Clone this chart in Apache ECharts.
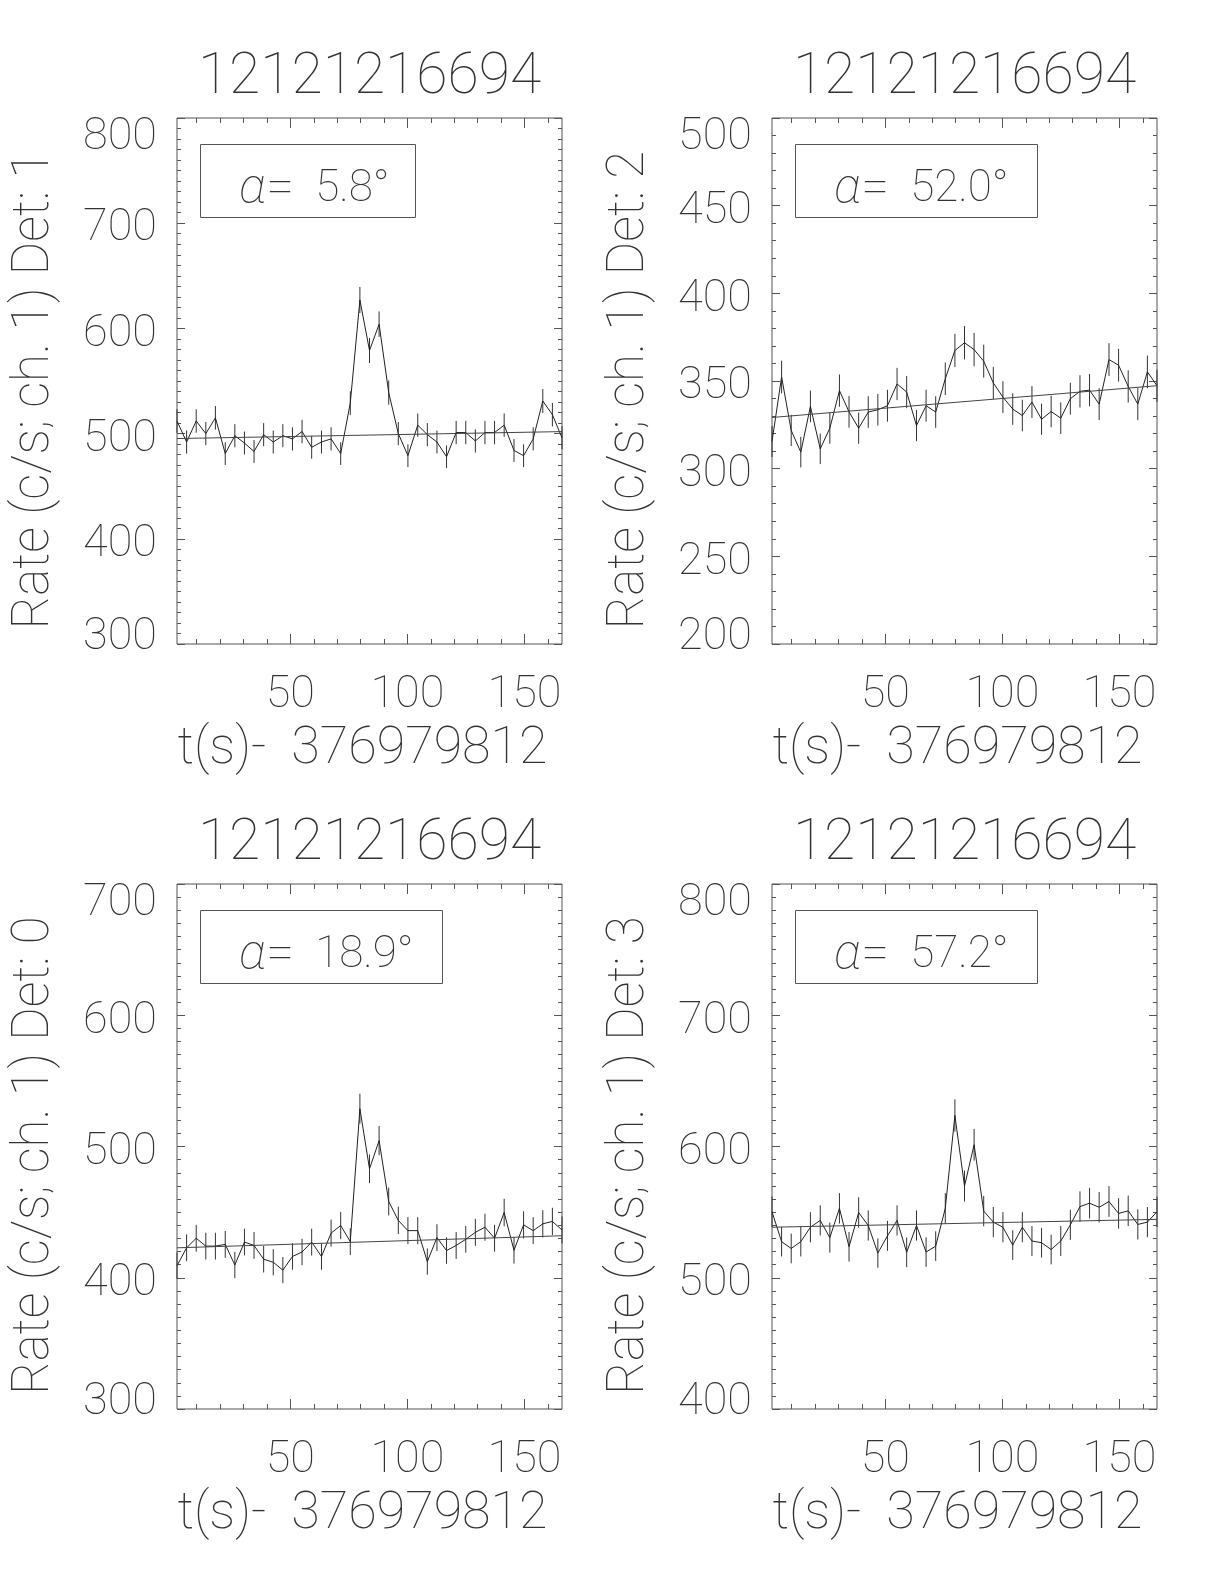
<!DOCTYPE html>
<html><head><meta charset="utf-8">
<script src="https://cdn.jsdelivr.net/npm/echarts@6/dist/echarts.min.js"></script>
<style>html,body{margin:0;padding:0;background:#fff}#c{width:1224px;height:1584px}</style>
</head><body><div id="c"></div>
<script>
// ---- data ----
const times = [1.6, 5.7, 9.8, 13.9, 18.0, 22.2, 26.3, 30.4, 34.5, 38.6, 42.7, 46.8, 50.9, 55.0, 59.1, 63.3, 67.4, 71.5, 75.6, 79.7, 83.8, 87.9, 92.0, 96.1, 100.2, 104.4, 108.5, 112.6, 116.7, 120.8, 124.9, 129.0, 133.1, 137.2, 141.3, 145.5, 149.6, 153.7, 157.8, 161.9, 166.0];
const fitTimes = [1.6, 166.0];

const rateDet1 = [512, 492, 512, 500, 515, 481, 498, 491, 483, 499, 492, 498, 495, 502, 487, 492, 495, 481, 529, 627, 579, 604, 539, 500, 479, 508, 499, 492, 478, 501, 501, 493, 501, 501, 508, 484, 479, 495, 531, 518, 496];
const errDet1 = [11.2, 11.0, 11.2, 11.0, 11.2, 10.8, 11.0, 10.9, 10.9, 11.0, 10.9, 11.0, 11.0, 11.1, 10.9, 10.9, 11.0, 10.8, 11.4, 12.4, 11.9, 12.1, 11.5, 11.0, 10.8, 11.1, 11.0, 10.9, 10.8, 11.1, 11.1, 11.0, 11.1, 11.1, 11.1, 10.9, 10.8, 11.0, 11.4, 11.2, 11.0];
const fitDet1 = [495.3, 501.9];

const rateDet2 = [315.5, 352.3, 321.8, 309.4, 335.5, 311.3, 323.1, 344.5, 332.4, 323.1, 332.3, 333.6, 335.9, 348.3, 343.7, 324.6, 335.9, 332.3, 351.3, 367.4, 371.8, 367.9, 361.3, 348.9, 340.8, 334.0, 330.3, 338.0, 328.2, 332.6, 328.8, 339.9, 344.1, 344.8, 336.8, 362.2, 359.0, 346.9, 336.8, 355.2, 347.3];
const errDet2 = [8.8, 9.3, 8.9, 8.7, 9.0, 8.7, 8.9, 9.2, 9.0, 8.9, 9.0, 9.0, 9.1, 9.2, 9.2, 8.9, 9.1, 9.0, 9.3, 9.5, 9.5, 9.5, 9.4, 9.2, 9.1, 9.0, 9.0, 9.1, 8.9, 9.0, 9.0, 9.1, 9.2, 9.2, 9.1, 9.4, 9.3, 9.2, 9.1, 9.3, 9.2];
const fitDet2 = [329.2, 347.3];

const rateDet0 = [409.2, 422.8, 430.1, 424.1, 424.1, 425.4, 409.7, 427.2, 424.6, 414.1, 411.8, 405.8, 416.2, 419.6, 427.2, 416.2, 434.0, 439.8, 427.5, 528.8, 483.0, 504.5, 458.1, 443.7, 435.9, 435.9, 412.3, 430.6, 420.7, 424.6, 429.3, 434.6, 438.5, 430.1, 449.7, 420.9, 440.3, 435.9, 441.1, 442.9, 436.4];
const errDet0 = [10.0, 10.2, 10.2, 10.2, 10.2, 10.2, 10.0, 10.2, 10.2, 10.1, 10.0, 10.0, 10.1, 10.1, 10.2, 10.1, 10.3, 10.4, 10.2, 11.4, 10.9, 11.1, 10.6, 10.4, 10.3, 10.3, 10.0, 10.2, 10.1, 10.2, 10.2, 10.3, 10.3, 10.2, 10.5, 10.1, 10.4, 10.3, 10.4, 10.4, 10.3];
const fitDet0 = [422.8, 432.0];

const rateDet3 = [550.3, 527.5, 522.3, 527.5, 538.5, 543.7, 530.6, 552.9, 523.6, 549.7, 539.8, 518.8, 531.9, 543.7, 519.4, 539.8, 519.6, 524.1, 552.9, 623.6, 569.9, 601.3, 550.8, 542.4, 538.5, 524.9, 538.5, 528.0, 526.7, 521.5, 528.0, 540.3, 554.2, 556.8, 553.7, 558.1, 549.0, 551.0, 540.6, 542.4, 550.3];
const errDet3 = [11.6, 11.3, 11.3, 11.3, 11.5, 11.5, 11.4, 11.6, 11.3, 11.6, 11.5, 11.2, 11.4, 11.5, 11.3, 11.5, 11.3, 11.3, 11.6, 12.3, 11.8, 12.1, 11.6, 11.5, 11.5, 11.3, 11.5, 11.4, 11.3, 11.3, 11.4, 11.5, 11.6, 11.7, 11.6, 11.7, 11.6, 11.6, 11.5, 11.5, 11.6];
const fitDet3 = [538.5, 544.5];

const xMajorTicks = [50, 100, 150];
const xMinorTicks = [10, 20, 30, 40, 60, 70, 80, 90, 110, 120, 130, 140, 160];
const yTicksDet1 = [300, 400, 500, 600, 700, 800];
const yTicksDet2 = [200, 250, 300, 350, 400, 450, 500];
const yTicksDet0 = [300, 400, 500, 600, 700];
const yTicksDet3 = [400, 500, 600, 700, 800];

const titleText = '12121216694';
const xName = 't(s)-  376979812';
const yNames = ['Rate (c/s; ch. 1) Det: 1', 'Rate (c/s; ch. 1) Det: 2', 'Rate (c/s; ch. 1) Det: 0', 'Rate (c/s; ch. 1) Det: 3'];
const alphaValues = ['5.8', '52.0', '18.9', '57.2'];

// ---- layout / style ----
const FONT = 'Roboto, Lato, "DejaVu Sans", sans-serif';
const FW = 100;
const TXT = '#333';
const AX = '#555';
const panels = [
  {rate: rateDet1, err: errDet1, fit: fitDet1, yt: yTicksDet1, minor: 10, left: 177, top: 118, h: 526},
  {rate: rateDet2, err: errDet2, fit: fitDet2, yt: yTicksDet2, minor: 5, left: 772, top: 118, h: 526},
  {rate: rateDet0, err: errDet0, fit: fitDet0, yt: yTicksDet0, minor: 10, left: 177, top: 884, h: 525},
  {rate: rateDet3, err: errDet3, fit: fitDet3, yt: yTicksDet3, minor: 10, left: 772, top: 884, h: 525}
];
const W = 385;
const labelFont = {fontFamily: FONT, fontWeight: FW, fontSize: 45, color: TXT};

const grid = [], xAxis = [], yAxis = [], series = [], graphic = [];
panels.forEach((p, i) => {
  grid.push({left: p.left, top: p.top, width: W, height: p.h, show: true, borderColor: AX, borderWidth: 1, backgroundColor: 'transparent'});
  const xBase = {type: 'value', gridIndex: i, min: times[0], max: times[times.length - 1], splitLine: {show: false}, axisLine: {show: false}};
  xAxis.push(Object.assign({}, xBase, {position: 'bottom',
    axisTick: {show: true, inside: true, length: 10, customValues: xMajorTicks, lineStyle: {color: AX}},
    axisLabel: Object.assign({show: true, customValues: xMajorTicks, margin: 29}, labelFont),
    name: xName, nameLocation: 'middle', nameGap: 80,
    nameTextStyle: {color: TXT, fontFamily: FONT, fontWeight: FW, fontSize: 52, padding: [0, 14, 0, 0]}}));
  xAxis.push(Object.assign({}, xBase, {position: 'bottom', axisTick: {show: true, inside: true, length: 5, customValues: xMinorTicks, lineStyle: {color: AX}}, axisLabel: {show: false}}));
  xAxis.push(Object.assign({}, xBase, {position: 'top', axisTick: {show: true, inside: true, length: 10, customValues: xMajorTicks, lineStyle: {color: AX}}, axisLabel: {show: false}}));
  xAxis.push(Object.assign({}, xBase, {position: 'top', axisTick: {show: true, inside: true, length: 5, customValues: xMinorTicks, lineStyle: {color: AX}}, axisLabel: {show: false}}));
  const ymin = p.yt[0], ymax = p.yt[p.yt.length - 1], yint = p.yt[1] - p.yt[0];
  const yBase = {type: 'value', gridIndex: i, min: ymin, max: ymax, interval: yint, splitLine: {show: false}, axisLine: {show: false},
    axisTick: {show: true, inside: true, length: 8, lineStyle: {color: AX}},
    minorTick: {show: true, splitNumber: p.minor, length: 4, lineStyle: {color: AX}}, minorSplitLine: {show: false}};
  yAxis.push(Object.assign({}, yBase, {position: 'left',
    axisLabel: Object.assign({show: true, margin: 20, verticalAlign: 'top', verticalAlignMinLabel: 'bottom',
      formatter: v => (v === ymax ? '{t|' + v + '}' : '{m|' + v + '}'),
      rich: {t: Object.assign({lineHeight: 40}, labelFont), m: Object.assign({lineHeight: 12}, labelFont)}}, labelFont),
    name: yNames[i], nameLocation: 'middle', nameGap: 116,
    nameTextStyle: {color: TXT, fontFamily: FONT, fontWeight: FW, fontSize: 51, padding: [0, 18, 0, 0]}}));
  yAxis.push(Object.assign({}, yBase, {position: 'right', axisLabel: {show: false}}));

  const xi = 4 * i, yi = 2 * i;
  series.push({type: 'custom', xAxisIndex: xi, yAxisIndex: yi, silent: true, animation: false,
    data: times.map((t, k) => [t, p.rate[k] - p.err[k], p.rate[k] + p.err[k]]),
    encode: {x: 0, y: [1, 2]},
    renderItem: (params, api) => {
      const a = api.coord([api.value(0), api.value(1)]);
      const b = api.coord([api.value(0), api.value(2)]);
      return {type: 'line', shape: {x1: a[0], y1: a[1], x2: b[0], y2: b[1]}, style: {stroke: '#333', lineWidth: 1}};
    }});
  series.push({type: 'line', xAxisIndex: xi, yAxisIndex: yi, silent: true, animation: false, showSymbol: false, symbol: 'none',
    data: times.map((t, k) => [t, p.rate[k]]), lineStyle: {color: '#222', width: 1}});
  series.push({type: 'line', xAxisIndex: xi, yAxisIndex: yi, silent: true, animation: false, showSymbol: false, symbol: 'none',
    data: fitTimes.map((t, k) => [t, p.fit[k]]), lineStyle: {color: '#444', width: 1}});

  // panel title
  graphic.push({type: 'text', x: p.left + W / 2, y: p.top - 39, style: {text: titleText, align: 'center', verticalAlign: 'middle', fill: TXT, font: FW + ' 57px ' + FONT}});
  // alpha box
  const bw = 134 + 27 * alphaValues[i].length;
  graphic.push({type: 'rect', shape: {x: p.left + 23.5, y: p.top + 26.5, width: bw, height: 73}, style: {fill: 'none', stroke: AX, lineWidth: 1}});
  graphic.push({type: 'text', x: p.left + 62, y: p.top + 72, style: {
    text: '{a|α}{e|=}{b|  ' + alphaValues[i] + '°}', verticalAlign: 'middle', align: 'left',
    rich: {a: {fontStyle: 'italic', fontFamily: FONT, fontWeight: FW, fontSize: 50, fill: TXT},
           e: {fontFamily: FONT, fontWeight: FW, fontSize: 50, fill: TXT},
           b: {fontFamily: FONT, fontWeight: FW, fontSize: 44, fill: TXT}}}});
});

const chart = echarts.init(document.getElementById('c'), null, {renderer: 'canvas'});
chart.setOption({backgroundColor: '#fff', animation: false, grid, xAxis, yAxis, series, graphic});
</script></body></html>
